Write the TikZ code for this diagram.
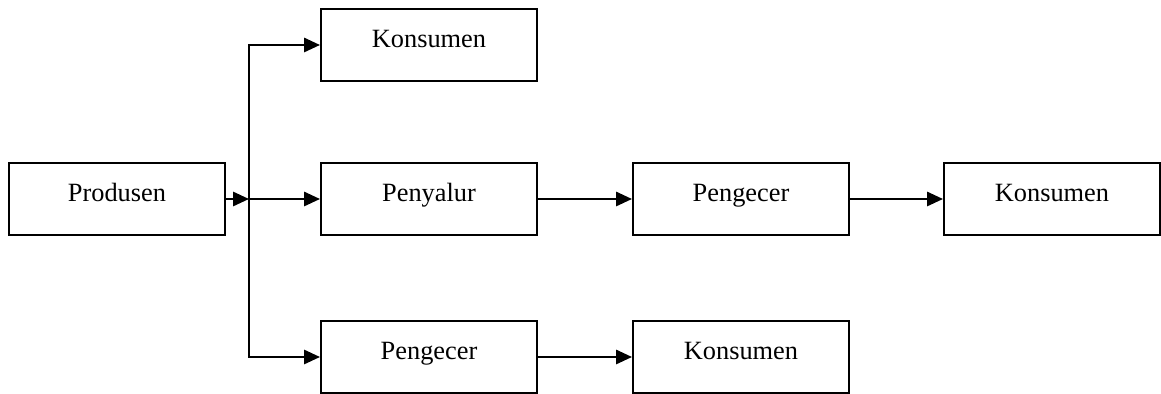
\documentclass[tikz,border=0pt]{standalone}
\usepackage{fontspec}
\setmainfont{Liberation Serif}
\usetikzlibrary{arrows.meta}

\begin{document}
\begin{tikzpicture}[x=0.016cm, y=-0.016cm,
		kotak/.style={draw, line width=0.9pt, minimum width=216*0.016cm, minimum height=72*0.016cm, text height=8pt, text depth=6pt, font=\fontsize{12}{14}\selectfont},
		panah/.style={line width=1.05pt, -{Triangle[length=7.2pt, width=6.4pt]}}]
			\useasboundingbox (0, 0) rectangle (1161, 394);
			\draw (117, 199) 	node[kotak] 	(produsen) 		{Produsen};
			\draw (429, 45) 	node[kotak] 	(konsumen_a) 	{Konsumen};
			\draw (429, 199) 	node[kotak] 	(penyalur) 		{Penyalur};
			\draw (741, 199) 	node[kotak] 	(pengecer_a) 	{Pengecer};
			\draw (1052, 199) 	node[kotak] 	(konsumen_b) 	{Konsumen};
			\draw (429, 357) 	node[kotak] 	(pengecer_b) 	{Pengecer};
			\draw (741, 357) 	node[kotak] 	(konsumen_c) 	{Konsumen};
			\coordinate (cabang) at (249, 199);
	
			\draw[panah] (produsen) -- (cabang);
			\draw[panah] (cabang) -- (penyalur);
			\draw[panah] (cabang) |- (konsumen_a);
			\draw[panah] (cabang) |- (pengecer_b);
			\draw[panah] (penyalur) -- (pengecer_a);
			\draw[panah] (pengecer_a) -- (konsumen_b);
			\draw[panah] (pengecer_b) -- (konsumen_c);
		\end{tikzpicture}
\end{document}
